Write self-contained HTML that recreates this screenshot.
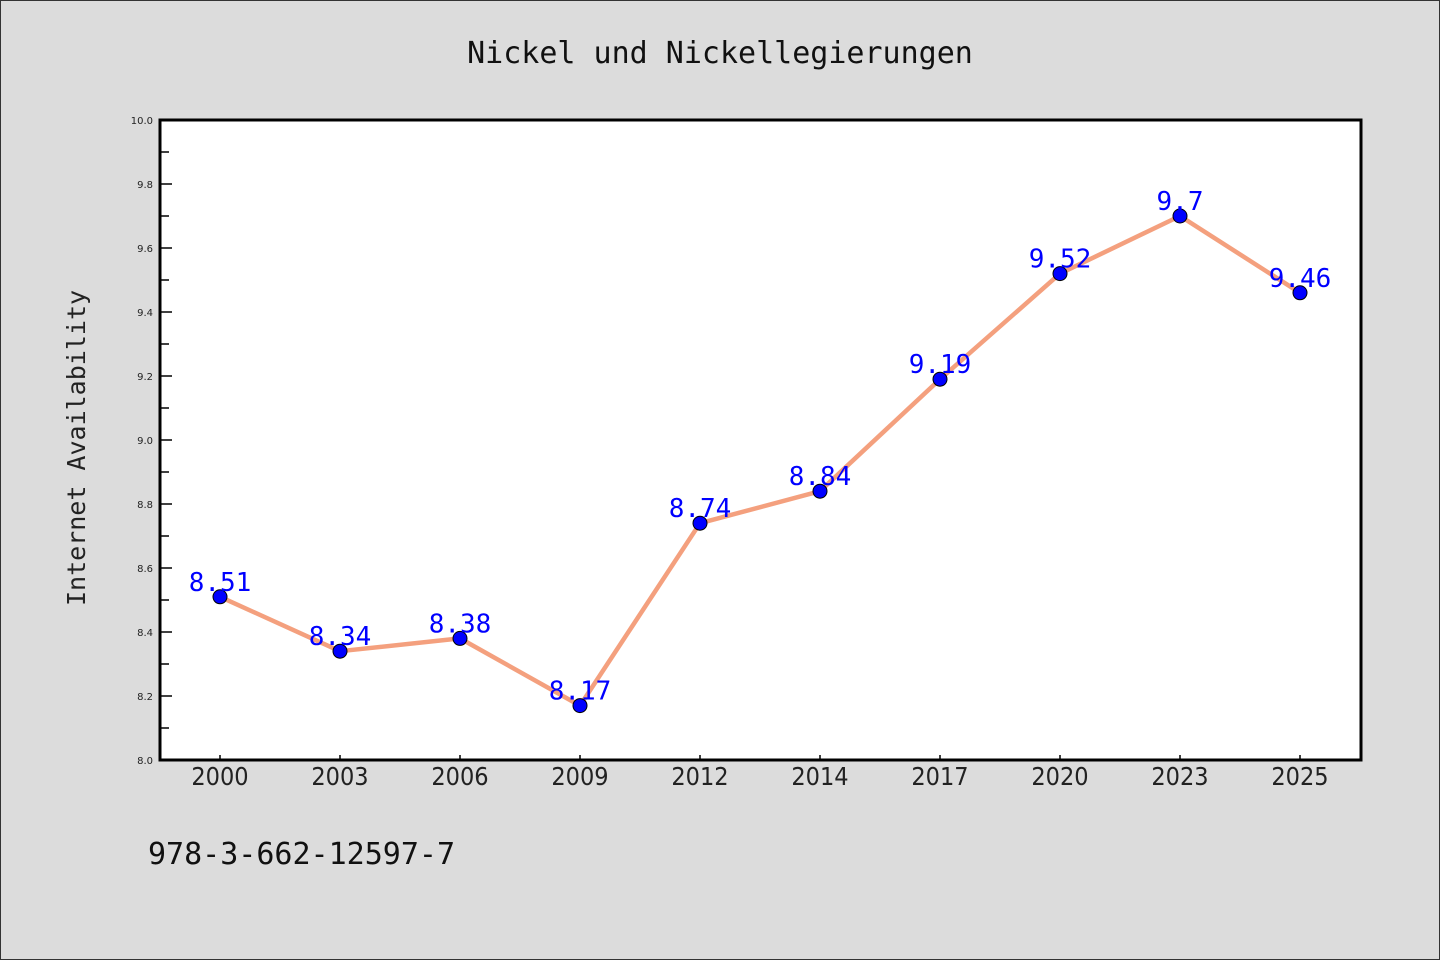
<!DOCTYPE html>
<html><head><meta charset="utf-8"><style>
body{margin:0;background:#dcdcdc;}
svg{display:block;font-family:"DejaVu Sans Mono","Liberation Mono",monospace;}
</style></head><body>
<svg id="chart" width="1440" height="960">
<rect x="0.5" y="0.5" width="1439" height="959" fill="#dcdcdc" stroke="#333"/>
<text x="720" y="63" text-anchor="middle" font-size="30" fill="#111">Nickel und Nickellegierungen</text>
<rect x="160" y="120" width="1201" height="640" fill="#fff"/>
<g id="axes"></g>
<g id="marks"></g>
<rect x="160" y="120" width="1201" height="640" fill="none" stroke="#000" stroke-width="3"/>
<text transform="translate(85,448) rotate(-90)" text-anchor="middle" font-size="25" fill="#222">Internet Availability</text>
<text x="148" y="864" font-size="30" fill="#111">978-3-662-12597-7</text>
</svg>
<script>
const categories=["2000","2003","2006","2009","2012","2014","2017","2020","2023","2025"];
const values=[8.51,8.34,8.38,8.17,8.74,8.84,9.19,9.52,9.7,9.46];
const yTicks=["8.0","8.2","8.4","8.6","8.8","9.0","9.2","9.4","9.6","9.8","10.0"];
const yMin=8.0,yMax=10.0;
const L=160,R=1361,T=120,B=760;
const NS="http://www.w3.org/2000/svg";
function x(i){return L+60+i*120;}
function y(v){return B-(v-yMin)/(yMax-yMin)*(B-T);}
function mk(tag,attrs,parent){const e=document.createElementNS(NS,tag);for(const k in attrs)e.setAttribute(k,attrs[k]);parent.appendChild(e);return e;}
const axes=document.getElementById('axes'),marks=document.getElementById('marks');
yTicks.forEach((t,i)=>{
 const v=parseFloat(t),yy=y(v);
 const ln=mk('line',{x1:L,x2:L+12,y1:yy,y2:yy,stroke:'#000','stroke-width':1.5},axes);
 
 
 const tx=mk('text',{x:L-7,y:yy+4,'text-anchor':'end','font-size':10,fill:'#222','font-family':'DejaVu Sans, sans-serif'},axes);
 tx.textContent=t;
 
 
 if(i<yTicks.length-1){
  const ym=y(v+0.1);
  const mn=mk('line',{x1:L,x2:L+9,y1:ym,y2:ym,stroke:'#000','stroke-width':1.5},axes);
  
  
 }
});
categories.forEach((c,i)=>{
 const xx=x(i);
 const ln=mk('line',{x1:xx,x2:xx,y1:B-5,y2:B,stroke:'#000','stroke-width':1.5},axes);
 
 
 const tx=mk('text',{x:xx,y:B+25,'text-anchor':'middle','font-size':25,fill:'#222','font-family':'DejaVu Sans Condensed, DejaVu Sans, sans-serif'},axes);
 tx.textContent=c;
 
 
});
const pl=mk('polyline',{points:values.map((v,i)=>x(i)+','+y(v)).join(' '),fill:'none',stroke:'#f4a07e','stroke-width':4.5,'stroke-linejoin':'round'},marks);


values.forEach((v,i)=>{
 const c=mk('circle',{cx:x(i),cy:y(v),r:7,fill:'#0000ff',stroke:'#000','stroke-width':1},marks);
 
 
 const t=mk('text',{x:x(i),y:y(v)-6,'text-anchor':'middle','font-size':26,fill:'#0000ff'},marks);
 t.textContent=String(v);
 
 
});
</script>
</body></html>
